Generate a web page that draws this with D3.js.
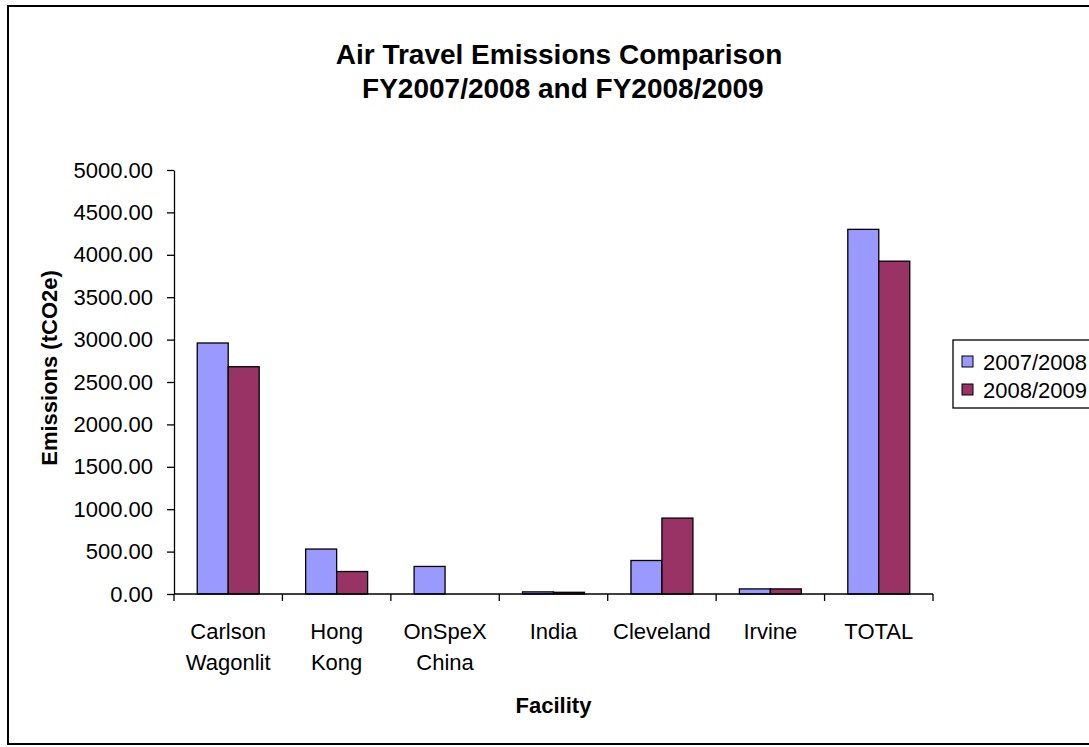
<!DOCTYPE html>
<html>
<head>
<meta charset="utf-8">
<script src="https://cdn.jsdelivr.net/npm/d3@7"></script>
<style>
    body { margin: 0; background: #fff; }
    svg { display: block; font-family: 'Liberation Sans', Arial, sans-serif; }
</style>
</head>
<body>
<div class="chart-container"></div>
<script>
// chart data
const categories = ['Carlson Wagonlit', 'Hong Kong', 'OnSpeX China', 'India', 'Cleveland', 'Irvine', 'TOTAL'];
const seriesNames = ['2007/2008', '2008/2009'];
const values0708 = [2960, 530, 325, 25, 395, 60, 4300];
const values0809 = [2680, 265, 0, 20, 895, 60, 3925];
const yTicks = [0, 500, 1000, 1500, 2000, 2500, 3000, 3500, 4000, 4500, 5000];
const colors = ['#9999FF', '#993366'];

const margin = { top: 170, left: 174 };
const width = 759;
const height = 424;

const svg = d3.select('.chart-container')
    .append('svg')
    .attr('width', 1089)
    .attr('height', 747);

// chart frame
svg.append('rect')
    .attr('x', 8)
    .attr('y', 6)
    .attr('width', 1110)
    .attr('height', 738)
    .style('fill', 'none')
    .style('stroke', '#000')
    .style('stroke-width', 2);

// title
const title = svg.append('text')
    .attr('text-anchor', 'middle')
    .style('font-weight', 'bold')
    .style('font-size', '28px');

title.append('tspan').attr('x', 559).attr('y', 64).text('Air Travel Emissions Comparison');
title.append('tspan').attr('x', 559).attr('y', 98).text(' FY2007/2008 and FY2008/2009');

const g = svg.append('g')
    .attr('transform', `translate(${margin.left}, ${margin.top})`);

// scales
const x0 = d3.scaleBand()
    .domain(categories)
    .range([0, width]);

const bw = x0.bandwidth();
const x1 = d3.scaleBand()
    .domain(seriesNames)
    .range([bw * 0.75 / 3.5, bw - bw * 0.75 / 3.5]);

const yScale = d3.scaleLinear()
    .domain([0, 5000])
    .range([height, 0]);

const seriesData = seriesNames.map((name, i) => ({
    name: name,
    color: colors[i],
    values: (i === 0 ? values0708 : values0809).map((v, j) => ({ cat: categories[j], value: v }))
}));

// bars
g.selectAll('.series')
    .data(seriesData)
    .enter()
    .append('g')
    .attr('class', 'series')
    .each(function(s) {
        d3.select(this)
            .selectAll('rect')
            .data(s.values.filter(d => d.value > 0))
            .enter()
            .append('rect')
            .attr('x', d => x0(d.cat) + x1(s.name))
            .attr('y', d => yScale(d.value))
            .attr('width', x1.bandwidth())
            .attr('height', d => height - yScale(d.value))
            .style('fill', s.color)
            .style('stroke', '#000')
            .style('stroke-width', 1.3);
    });

// y axis
const yAxis = d3.axisLeft(yScale)
    .tickValues(yTicks)
    .tickFormat(d3.format('.2f'))
    .tickSizeInner(7)
    .tickSizeOuter(0)
    .tickPadding(14);

const yAxisDraw = g.append('g')
    .attr('class', 'y axis')
    .call(yAxis);

yAxisDraw.selectAll('text')
    .style('font-size', '22px')
    .style('fill', '#000')
    .style('font-family', "'Liberation Sans', Arial, sans-serif");
yAxisDraw.selectAll('line, path').style('stroke', '#000').style('stroke-width', 1.3);

// x axis: line, boundary ticks and wrapped labels
const xAxisDraw = g.append('g')
    .attr('class', 'x axis')
    .attr('transform', `translate(0, ${height})`);

xAxisDraw.append('line')
    .attr('x1', 0)
    .attr('x2', width)
    .style('stroke', '#000')
    .style('stroke-width', 1.3);

const boundaries = categories.map(c => x0(c)).concat([x0.range()[1]]);
xAxisDraw.selectAll('.tick-mark')
    .data(boundaries)
    .enter()
    .append('line')
    .attr('class', 'tick-mark')
    .attr('x1', d => d)
    .attr('x2', d => d)
    .attr('y1', 0)
    .attr('y2', 7)
    .style('stroke', '#000')
    .style('stroke-width', 1.3);

const xLabels = xAxisDraw.selectAll('.x-label')
    .data(categories)
    .enter()
    .append('text')
    .attr('class', 'x-label')
    .attr('text-anchor', 'middle')
    .style('font-size', '22px');

xLabels.each(function(c) {
    const words = c.split(' ');
    const cx = x0(c) + bw / 2;
    words.forEach((w, i) => {
        d3.select(this).append('tspan')
            .attr('x', cx)
            .attr('y', 45 + i * 31)
            .text(w);
    });
});

// axis titles
g.append('text')
    .attr('x', width / 2)
    .attr('y', height + 119)
    .attr('text-anchor', 'middle')
    .style('font-weight', 'bold')
    .style('font-size', '22px')
    .text('Facility');

svg.append('text')
    .attr('transform', 'translate(57, 368) rotate(-90)')
    .attr('text-anchor', 'middle')
    .style('font-weight', 'bold')
    .style('font-size', '22px')
    .text('Emissions (tCO2e)');

// legend
const legend = svg.append('g')
    .attr('class', 'legend')
    .attr('transform', 'translate(953, 340)');

legend.append('rect')
    .attr('width', 150)
    .attr('height', 68)
    .style('fill', '#fff')
    .style('stroke', '#000')
    .style('stroke-width', 1.3);

const items = legend.selectAll('.legend-item')
    .data(seriesData)
    .enter()
    .append('g')
    .attr('class', 'legend-item')
    .attr('transform', (d, i) => `translate(0, ${i * 28})`);

items.append('rect')
    .attr('x', 9)
    .attr('y', 16)
    .attr('width', 11)
    .attr('height', 11)
    .style('fill', d => d.color)
    .style('stroke', '#000')
    .style('stroke-width', 1);

items.append('text')
    .attr('x', 30)
    .attr('y', 30)
    .style('font-size', '22px')
    .text(d => d.name);
</script>
</body>
</html>
